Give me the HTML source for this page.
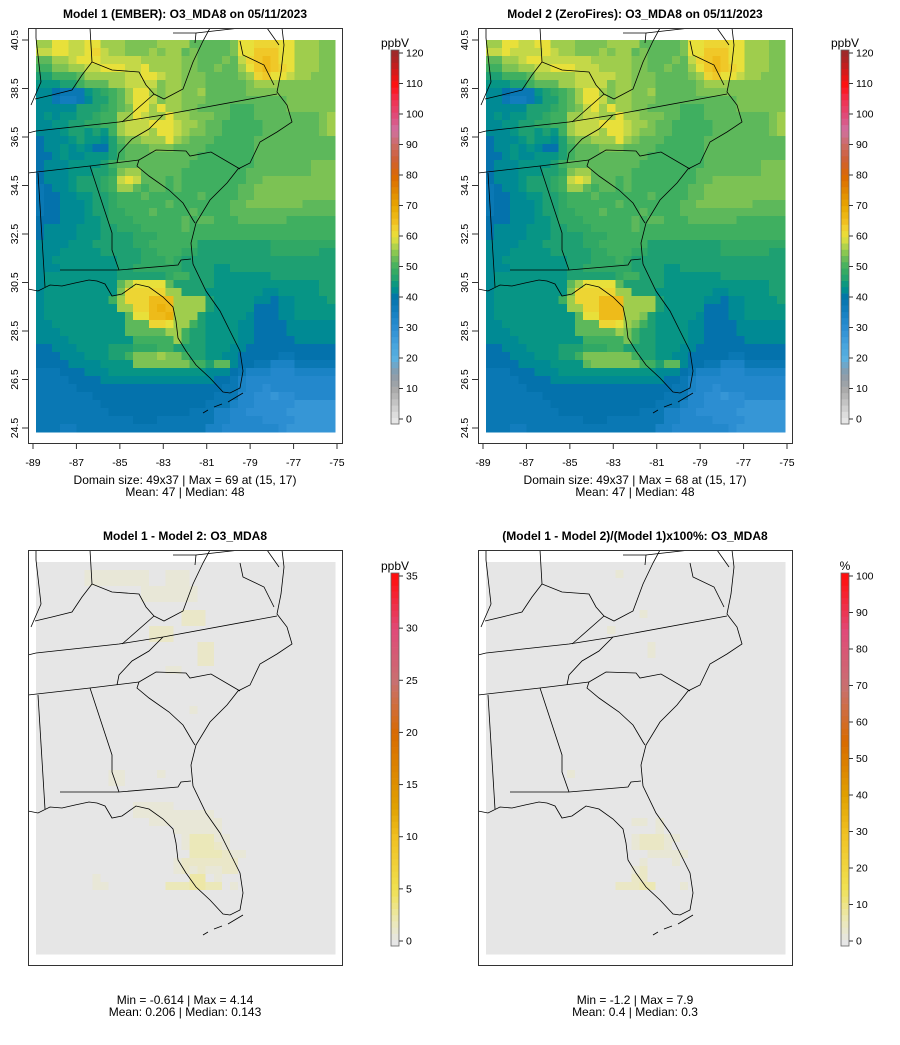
<!DOCTYPE html>
<html><head><meta charset="utf-8">
<style>
html,body{margin:0;padding:0;background:#fff;}
svg{display:block;font-family:"Liberation Sans",sans-serif;}
</style></head>
<body>
<svg id="fig" width="900" height="1045" viewBox="0 0 900 1045" xmlns="http://www.w3.org/2000/svg">
<rect width="900" height="1045" fill="#fff"/>
</svg>
<script>
// ---- data: O3_MDA8 grids (49 rows x 37 cols), letters A=20 ppbV, step 2 ppbV
const m1Rows = [
"SSUUTTUUSSSRRRRSSSSQQQQQRUUVVVUUSSSRR",
"TTUUTTUVTSSRRRSRSSQRQQQQRUUWWWUUSSSRR",
"QQSSTUUUTTTTTSSSSSRRQQQRQTVWXWUUSSSRR",
"PPRRSSTTUUUTTUSSSSRRQQRQQSUWXWVUSSSRR",
"NNPPPQSSSSSTTUUTSSRRRQQQQRSVWUUTSSRRR",
"MMMNNPQQQSSTTTTRSSRRRQQQQQRSSSRRRRRRR",
"LLKJJJMNOPQSUUSRSSRRSQQQQQRRRRRRRRRRR",
"LLJIIJLNNPQSUUTRSSRRRQQQQQQQQQQRRRRRR",
"LLLLLNNNOPQRUUSUSSRRQQQQPPPQQQQRRRRRR",
"LMLMMNNOPPSSUTSSUSSRRRQQPPPQQQQQQQQRS",
"LLMMNNOOPPSTTTUUUTSSRQQPPPPPQQQQQQQRS",
"LLLMNNMNMPSTTTSUUTSRRQQPPPPPQQQQQQQRS",
"KLLLMNMMLNQRRSSSUSRQQQPPPPPQQQQQQQQQQ",
"KLLMLMLKKNPQQQRRRQQQQPPPPPPQQQQQQQQQQ",
"KKLMLLMMMNPQQQQQQQQQPPPPPPPQQQQQQQQQQ",
"KLLLMMMMNPQQQQQQQQQPPPPPPPPQQQQQQQRRR",
"KLLLMMMNNORSSQQQQQPPPPPPPPQQQQQQQQRRR",
"KLLLMNNNOPTUTQQQPQPPPPPPPPQQRRRRRRRRR",
"JKLLMNNNOPSSQPQQPQPPPPPPPQQRRRRRRRRRR",
"JKKLLMMNNOPPPQPPPPPPQPPPPQQRRRRRRRRRR",
"JKKLLLMNNOPPPPPPQPPPPPPPQQRRRRRRRQQQQ",
"JKKLLLMNNOOPPPQPPPPQPPPPQQQQQQQQQQQQQ",
"KKKLLLMMNOOOPPPPPPQPQQPPPQQQQQQPPPPPP",
"KLLLLMMMNNOOOPPPPPQPPPPPPPPPPPPPPPPPP",
"KLLLLMMMNNNNOOOPPPPPPPPPPPPPPPPPPPPPP",
"LLLLMMMNNNNNOOPPPPPPNNNNNNNNNOOOOOOOO",
"LLLMMMMMNNNNNOOPPPOONNNNNNNNNOOOOOONN",
"LLMMMMMMMMNNNOOOPONNNNNNNNNNNNNNNNNNN",
"LLLMMMMMMMNNOOOOOONNNNMMNNNNNNNNNNNNN",
"LMMMMMMMMMNNNNNNOPPNNNMMMMMMMNNNNNNNN",
"LMMMMMMMMMQSUUUUQNNNNNMMMMMMMMMMMMMNN",
"LMMMMMMMMMRVVVVVSSNNNMMMMMMMLLMMMMMNN",
"LMMMMMMMMPSVVVXXXSSSSNMMMMMLLKLLMMMMN",
"LMMMMMMMMMSSVVXYXSSSSNMMMMMKKKLLMMMMM",
"LMMMMMMMMMMQUUXXYSSSNMMMMMLKKKLLMMMMM",
"LLMMMMMMMMMQQQVVUSSPNMMMMLLKKKKLLLLLL",
"LLLMMMMMMMMQQQQQSSPNNMMMMLLKKKKLLLLLL",
"LLLLMMMMMMMMPPPPPSPNNMMMMLLKKKKKLLLLL",
"KKLLLMMMMNNNOOOPPNNNNMMMLLKKKKKKKKKKK",
"KKKLLLMMMNNPRRRSRRPNNMMLLKKKKKJJKKKKK",
"KKKKLLLLMMMMRRRRRRRPPNQQLKKJJHHHJJJJJ",
"JJJKKKLLLMMMMMMMMMMMMLLLKJHHHGGGHHHHH",
"JJJJKKKKLLLLLLLLLLLLLLKKJHGGGGGGGGGGG",
"JJJJJKKKKKKKKKKKKKKKKKKJJHGGFGGGGGGGG",
"JJJJJJJKKKKKKKKKKKKKKKJJJGGFFEFFGGGGG",
"JJJJJJJJKKKKKKKKKKKKKJJJHGGFFFFFEEEEE",
"JJJJJJJJJKKKKKKKKKKJJJHHGGFFFFFEEEEEE",
"JJJJJJJJJJJJKKKJJJJJJJHHGGGGFFFFEEEEE",
"JJJIIJJJJJJJJJJJJJJJJHHGGGGGGGFEEEEEE"
];
const m2Rows = [
"SSUUTTUUSSSRRRRSSSSQQQQQRUUVVVUUSSSRR",
"TTUTTTTUTSSRRRSRSSQRQQQQRUUWWWUUSSSRR",
"QQSSTUUTTTTTTSSSSSRRQQQRQTVWXWUUSSSRR",
"PPRRSSTTUUUTTTSSSSRRQQRQQSUWXWVUSSSRR",
"NNPPPQSSSSSTTTTTSSRRRQQQQRSVWUUTSSRRR",
"MMMNNPQQQSSTTTTRSSRRRQQQQQRSSSRRRRRRR",
"LLKJJJMNOPQSUUSRSSRRSQQQQQRRRRRRRRRRR",
"LLJIIJLNNPQSUUTRSSRRRQQQQQQQQQQRRRRRR",
"LLLLLNNNOPQRTUSUSSRRQQQQPPPQQQQRRRRRR",
"LMLMMNNOPPSSTTSSUSSRRRQQPPPQQQQQQQQRS",
"LLMMNNOOPPSTTTUUUTSSRQQPPPPPQQQQQQQRS",
"LLLMNNMNMPSTTTSUUTSRRQQPPPPPQQQQQQQRS",
"KLLLMNMMLNQRRSSSUSRQQQPPPPPQQQQQQQQQQ",
"KLLMLMLKKNPQQQRRRQQQQPPPPPPQQQQQQQQQQ",
"KKLMLLMMMNPQQQQQQQQQPPPPPPPQQQQQQQQQQ",
"KLLLMMMMNPQQQQQQQQQPPPPPPPPQQQQQQQRRR",
"KLLLMMMNNORSSQQQQQPPPPPPPPQQQQQQQQRRR",
"KLLLMNNNOPTUTQQQPQPPPPPPPPQQRRRRRRRRR",
"JKLLMNNNOPSSQPQQPQPPPPPPPQQRRRRRRRRRR",
"JKKLLMMNNOPPPQPPPPPPQPPPPQQRRRRRRRRRR",
"JKKLLLMNNOPPPPPPQPPPPPPPQQRRRRRRRQQQQ",
"JKKLLLMNNOOPPPQPPPPQPPPPQQQQQQQQQQQQQ",
"KKKLLLMMNOOOPPPPPPQPQQPPPQQQQQQPPPPPP",
"KLLLLMMMNNOOOPPPPPQPPPPPPPPPPPPPPPPPP",
"KLLLLMMMNNNNOOOPPPPPPPPPPPPPPPPPPPPPP",
"LLLLMMMNNNNNOOPPPPPPNNNNNNNNNOOOOOOOO",
"LLLMMMMMNNNNNOOPPPOONNNNNNNNNOOOOOONN",
"LLMMMMMMMMNNNOOOPONNNNNNNNNNNNNNNNNNN",
"LLLMMMMMMMNNOOOOOONNNNMMNNNNNNNNNNNNN",
"LMMMMMMMMMNNNNNNOPPNNNMMMMMMMNNNNNNNN",
"LMMMMMMMMMQSUUUUQNNNNNMMMMMMMMMMMMMNN",
"LMMMMMMMMMRVVVVVSSNNNMMMMMMMLLMMMMMNN",
"LMMMMMMMMPSVVVXXXSSSSNMMMMMLLKLLMMMMN",
"LMMMMMMMMMSSVVXXXSSSSNMMMMMKKKLLMMMMM",
"LMMMMMMMMMMQUUXXXSSRNMMMMMLKKKLLMMMMM",
"LLMMMMMMMMMQQQVVUSRPNMMMMLLKKKKLLLLLL",
"LLLMMMMMMMMQQQQQSRPNNMMMMLLKKKKLLLLLL",
"LLLLMMMMMMMMPPPPPRPNNMMMMLLKKKKKLLLLL",
"KKLLLMMMMNNNOOOPPNNNNMMMLLKKKKKKKKKKK",
"KKKLLLMMMNNPRRRRRRPNNMMLLKKKKKJJKKKKK",
"KKKKLLLLMMMMQRRRRRRPPNQQLKKJJHHHJJJJJ",
"JJJKKKLLLMMMMMMMMMMMMLLLKJHHHGGGHHHHH",
"JJJJKKKKLLLLLLLLLLLLLLKKJHGGGGGGGGGGG",
"JJJJJKKKKKKKKKKKKKKKKKKJJHGGFGGGGGGGG",
"JJJJJJJKKKKKKKKKKKKKKKJJJGGFFEFFGGGGG",
"JJJJJJJJKKKKKKKKKKKKKJJJHGGFFFFFEEEEE",
"JJJJJJJJJKKKKKKKKKKJJJHHGGFFFFFEEEEEE",
"JJJJJJJJJJJJKKKJJJJJJJHHGGGGFFFFEEEEE",
"JJJIIJJJJJJJJJJJJJJJJHHGGGGGGGFEEEEEE"
];
// difference grid: digit d -> d*0.6 ppbV
const diffRows = [
"0000000000000000000000000000000000000",
"0000001111111100111000000000000000000",
"0000001111111100111000000000000000000",
"0000000000000111111100000000000000000",
"0000000000000111111100000000000000000",
"0000000000000000000000000000000000000",
"0000000000000000002220000000000000000",
"0000000000000000002220000000000000000",
"0000000000000022200000000000000000000",
"0000000000000022200000000000000000000",
"0000000000000000000022000000000000000",
"0000000000000000000022000000000000000",
"0000000000000000000022000000000000000",
"0000000000000000110000000000000000000",
"0000000000000000000000000000000000000",
"0000000000000000000000000000000000000",
"0000000000000000000000000000000000000",
"0000000000000000000000000000000000000",
"0000000000000000000100000000000000000",
"0000000000000000000000000000000000000",
"0000000000000000000000000000000000000",
"0000000000000000000000000000000000000",
"0000000000000000000000000000000000000",
"0000000000000000000000000000000000000",
"0000000000000000000000000000000000000",
"0000000000000000000000000000000000000",
"0000000001100001000000000000000000000",
"0000000001100000000000000000000000000",
"0000000000000000000000000000000000000",
"0000000000000000000000000000000000000",
"0000000000001111100000000000000000000",
"0000000000001111111111000000000000000",
"0000000000000011111111100000000000000",
"0000000000000000011111100000000000000",
"0000000000000000001333110000000000000",
"0000000000000000001333210000000000000",
"0000000000000000000333321100000000000",
"0000000000000000012222222000000000000",
"0000000000000000012121122000000000000",
"0000000100000000000440100000000000000",
"0000000110000000333443301000000000000",
"0000000000000000000000000000000000000",
"0000000000000000000000000000000000000",
"0000000000000000000000000000000000000",
"0000000000000000000000000000000000000",
"0000000000000000000000000000000000000",
"0000000000000000000000000000000000000",
"0000000000000000000000000000000000000",
"0000000000000000000000000000000000000"
];
// percent difference grid: digit d -> d*2 %
const pctRows = [
"0000000000000000000000000000000000000",
"0000000000000000100000000000000000000",
"0000000000000000000000000000000000000",
"0000000000000000000000000000000000000",
"0000000000000000000000000000000000000",
"0000000000000000000000000000000000000",
"0000000000000000000100000000000000000",
"0000000000000000000000000000000000000",
"0000000000000001000000000000000000000",
"0000000000000000000000000000000000000",
"0000000000000000000010000000000000000",
"0000000000000000000010000000000000000",
"0000000000000000000000000000000000000",
"0000000000000000000000000000000000000",
"0000000000000000000000000000000000000",
"0000000000000000000000000000000000000",
"0000000000000000000000000000000000000",
"0000000000000000000000000000000000000",
"0000000000000000000000000000000000000",
"0000000000000000000000000000000000000",
"0000000000000000000000000000000000000",
"0000000000000000000000000000000000000",
"0000000000000000000000000000000000000",
"0000000000000000000000000000000000000",
"0000000000000000000000000000000000000",
"0000000000000000000000000000000000000",
"0000000000100000000000000000000000000",
"0000000000000000000000000000000000000",
"0000000000000000000000000000000000000",
"0000000000000000000000000000000000000",
"0000000000000000000000000000000000000",
"0000000000000000000000000000000000000",
"0000000000000000001101000000000000000",
"0000000000000000000001000000000000000",
"0000000000000000001222110000000000000",
"0000000000000000001222100000000000000",
"0000000000000000000011111000000000000",
"0000000000000000000100010000000000000",
"0000000000000000001200000000000000000",
"0000000000000000002200000000000000000",
"0000000000000000222330001000000000000",
"0000000000000000000000000000000000000",
"0000000000000000000000000000000000000",
"0000000000000000000000000000000000000",
"0000000000000000000000000000000000000",
"0000000000000000000000000000000000000",
"0000000000000000000000000000000000000",
"0000000000000000000000000000000000000",
"0000000000000000000000000000000000000"
];
const lonTicks = [-89,-87,-85,-83,-81,-79,-77,-75];
const latTicks = [24.5,26.5,28.5,30.5,32.5,34.5,36.5,38.5,40.5];
const o3Ticks = [0,10,20,30,40,50,60,70,80,90,100,110,120];
const diffTicks = [0,5,10,15,20,25,30,35];
const pctTicks = [0,10,20,30,40,50,60,70,80,90,100];

const NS='http://www.w3.org/2000/svg';
const svg=document.getElementById('fig');
function mk(tag,attrs,parent){const e=document.createElementNS(NS,tag);for(const k in attrs)e.setAttribute(k,attrs[k]);(parent||svg).appendChild(e);return e;}
function hex(h){return [parseInt(h.substr(1,2),16),parseInt(h.substr(3,2),16),parseInt(h.substr(5,2),16)];}
function pal(stops){return v=>{if(v<=stops[0][0])return stops[0][1];for(let i=1;i<stops.length;i++){if(v<=stops[i][0]){const a=stops[i-1],b=stops[i];const t=(v-a[0])/(b[0]-a[0]);const ca=hex(a[1]),cb=hex(b[1]);return 'rgb('+ca.map((c,j)=>Math.round(c+(cb[j]-c)*t)).join(',')+')';}}return stops[stops.length-1][1];};}
const o3Pal=pal([[0,'#e6e6e6'],[10,'#a8a8a8'],[15,'#8a9aa8'],[20,'#5ab0e0'],[25,'#44a2dc'],[30,'#2c8ed2'],[35,'#1680c2'],[38,'#0a78b4'],[40,'#0472ac'],[42,'#008a94'],[44,'#079585'],[46,'#1ea072'],[48,'#30a865'],[50,'#3faf60'],[53,'#6cbc58'],[55,'#8cc850'],[58,'#c4d848'],[60,'#e8e03a'],[63,'#f0d030'],[65,'#f0c020'],[70,'#e8a800'],[75,'#e08800'],[80,'#dc6a00'],[85,'#d06030'],[90,'#cc6a60'],[95,'#d070a0'],[100,'#e04a78'],[105,'#f03050'],[110,'#ff1010'],[120,'#a02828']]);
const diffPal=pal([[0,'#e6e6e6'],[2,'#ece8b4'],[5,'#f0e050'],[10,'#f0c020'],[13,'#e0a000'],[20,'#d86a00'],[25,'#c87070'],[30,'#e04a78'],[35,'#ff1010']]);
const pctPal=pal([[0,'#e6e6e6'],[6,'#ece8b4'],[15,'#f0e050'],[30,'#f0c020'],[40,'#e0a000'],[55,'#d86a00'],[70,'#c87070'],[85,'#e04a78'],[100,'#ff1010']]);

function cellVal(rows,r,c,dec){let s=rows[r];let ch=c<s.length?s[c]:s[s.length-1];return dec(ch);}
const decO3=ch=>20+2*(ch.charCodeAt(0)-65);
const decDiff=ch=>parseInt(ch,36)*0.6;
const decPct=ch=>parseInt(ch,36)*2;

const NR=49,NC=37;
const borders=[
[[36,131],[119,122],[163,115],[277,94]],
[[28,173],[90,166],[139,160]],
[[139,160],[156,150],[186,151],[190,156],[211,152],[240,169]],
[[139,160],[137,166],[149,176],[169,190],[183,203],[193,220],[195,223]],
[[90,166],[112,233],[112,250],[119,270]],
[[60,270],[119,270],[178,265],[181,260],[191,259]],
[[38,173],[45,287]],
[[28,289],[38,291],[50,285],[62,286],[75,283],[89,280],[97,281],[105,284],[112,296],[122,294],[136,284],[149,287],[163,297],[173,307],[176,321],[178,338],[186,351],[196,365],[210,378],[223,392],[230,393],[240,388],[243,371],[240,351],[230,331],[220,311],[206,291],[193,264],[191,243],[196,223],[210,200],[227,183],[238,169],[250,163],[260,142],[277,132],[292,122],[287,105],[277,92],[281,72],[284,45],[282,28]],
[[240,41],[243,55],[264,65],[274,85]],
[[203,413],[208,410]],[[214,407],[222,404]],[[228,402],[243,393]],
[[90,28],[92,62],[112,70],[139,72],[146,85],[154,94],[164,99],[183,89],[193,62],[203,41],[210,28]],
[[154,94],[129,116],[122,122]],
[[35,99],[52,95],[72,90],[82,75],[92,62]],
[[36,28],[36,38],[41,82],[31,105]],
[[28,133],[36,131]],
[[163,115],[149,129],[132,139],[119,153],[117,163]],
[[173,33],[196,33],[195,43]],[[196,33],[240,28]],
[[267,28],[279,45]]
];

function panel(o){
  const g=mk('g',{});
  const ox=o.x0, oy=o.y0;
  const cid='clip'+o.id;
  const cp=mk('clipPath',{id:cid},g);
  mk('rect',{x:ox,y:oy,width:314,height:415},cp);
  const t=mk('text',{x:ox+157,y:oy-10,'text-anchor':'middle','font-size':'12','font-weight':'bold',fill:'#000'},g);
  
  
  t.textContent=o.title;
  const dx=ox+8, dy=oy+12, cw=299/NC, chh=392/NR;
  const cg=mk('g',{'shape-rendering':'crispEdges'},g);
  
  
  for(let r=0;r<NR;r++)for(let c=0;c<NC;c++){
    const v=cellVal(o.rows,r,c,o.dec);
    const x=dx+c*cw, y=dy+r*chh;
    const rc=mk('rect',{x:x.toFixed(2),y:y.toFixed(2),width:(cw+0.4).toFixed(2),height:(chh+0.4).toFixed(2),fill:o.pal(v)},cg);
    
    
  }
  const bg=mk('g',{'clip-path':'url(#'+cid+')',fill:'none',stroke:'#000','stroke-width':'0.8'},g);
  
  
  const sx=ox-28, sy=oy-28;
  borders.forEach(l=>{mk('polyline',{points:l.map(p=>(p[0]+sx)+','+(p[1]+sy)).join(' ')},bg);});
  const bx=mk('rect',{x:ox+0.5,y:oy+0.5,width:314,height:415,fill:'none',stroke:'#333','stroke-width':'1'},g);
  
  
  if(o.axes){
    const xa=mk('g',{},g);
    
    
    const lonX=v=>ox+5+(v+89)*(304/14);
    const latY=v=>dy+(40.5-v)*(388/16);
    mk('line',{x1:lonX(-89),x2:lonX(-75),y1:oy+415.5,y2:oy+415.5,stroke:'#333'},xa);
    lonTicks.forEach(v=>{mk('line',{x1:lonX(v),x2:lonX(v),y1:oy+415,y2:oy+421,stroke:'#333'},xa);
      const tt=mk('text',{x:lonX(v),y:oy+438,'text-anchor':'middle','font-size':'10.5'},xa);tt.textContent=v;});
    const ya=mk('g',{},g);
    
    
    latTicks.forEach(v=>{const y=latY(v);mk('line',{x1:ox-6,x2:ox,y1:y,y2:y,stroke:'#333'},ya);
      const tt=mk('text',{x:ox-10,y:y,'text-anchor':'middle','font-size':'10.5',transform:'rotate(-90 '+(ox-10)+' '+y+')'},ya);tt.textContent=v.toFixed(1);});
  }
  const s1=mk('text',{x:ox+157,y:o.sy,'text-anchor':'middle','font-size':'12'},g);
  
  
  s1.textContent=o.s1;
  const s2=mk('text',{x:ox+157,y:o.sy+12,'text-anchor':'middle','font-size':'12'},g);
  
  
  s2.textContent=o.s2;
  const cb=mk('g',{},g);
  
  
  const bx0=ox+363, top=oy+o.cbTop, bot=oy+o.cbBot, n=60;
  const vy=v=>bot-(v-o.cmin)/(o.cmax-o.cmin)*(bot-top);
  const y0=bot+5, y1=top-3;
  for(let i=0;i<n;i++){const v=o.cmin-(o.cmax-o.cmin)*0.013+(i+0.5)/n*(o.cmax-o.cmin)*1.026;
    const ya=y0-(i)*(y0-y1)/n, yb=y0-(i+1)*(y0-y1)/n;
    mk('rect',{x:bx0,y:yb,width:8,height:ya-yb+0.3,fill:o.pal(v)},cb);}
  mk('rect',{x:bx0,y:y1,width:8,height:y0-y1,fill:'none',stroke:'#666','stroke-width':'0.8'},cb);
  o.ticks.forEach(v=>{const y=vy(v);mk('line',{x1:bx0+8,x2:bx0+12,y1:y,y2:y,stroke:'#333'},cb);
    const tt=mk('text',{x:bx0+15,y:y+3.5,'font-size':'10.5'},cb);tt.textContent=v;});
  const un=mk('text',{x:bx0+4,y:top-6,'text-anchor':'middle','font-size':'12'},cb);
  
  
  un.textContent=o.unit;
}
panel({id:1,name:'panel-model1',x0:28,y0:28,title:'Model 1 (EMBER): O3_MDA8 on 05/11/2023',rows:m1Rows,dec:decO3,pal:o3Pal,axes:true,sy:484,s1:'Domain size: 49x37 | Max = 69 at (15, 17)',s2:'Mean: 47 |  Median: 48',cbTop:25,cbBot:391,cmin:0,cmax:120,ticks:o3Ticks,unit:'ppbV'});
panel({id:2,name:'panel-model2',x0:478,y0:28,title:'Model 2 (ZeroFires): O3_MDA8 on 05/11/2023',rows:m2Rows,dec:decO3,pal:o3Pal,axes:true,sy:484,s1:'Domain size: 49x37 | Max = 68 at (15, 17)',s2:'Mean: 47 |  Median: 48',cbTop:25,cbBot:391,cmin:0,cmax:120,ticks:o3Ticks,unit:'ppbV'});
panel({id:3,name:'panel-difference',x0:28,y0:550,title:'Model 1 - Model 2: O3_MDA8',rows:diffRows,dec:decDiff,pal:diffPal,axes:false,sy:1004,s1:'Min = -0.614 | Max = 4.14',s2:'Mean: 0.206 |  Median: 0.143',cbTop:26,cbBot:391,cmin:0,cmax:35,ticks:diffTicks,unit:'ppbV'});
panel({id:4,name:'panel-percent-difference',x0:478,y0:550,title:'(Model 1 - Model 2)/(Model 1)x100%: O3_MDA8',rows:pctRows,dec:decPct,pal:pctPal,axes:false,sy:1004,s1:'Min = -1.2 | Max = 7.9',s2:'Mean: 0.4 |  Median: 0.3',cbTop:26,cbBot:391,cmin:0,cmax:100,ticks:pctTicks,unit:'%'});
</script>
</body></html>
